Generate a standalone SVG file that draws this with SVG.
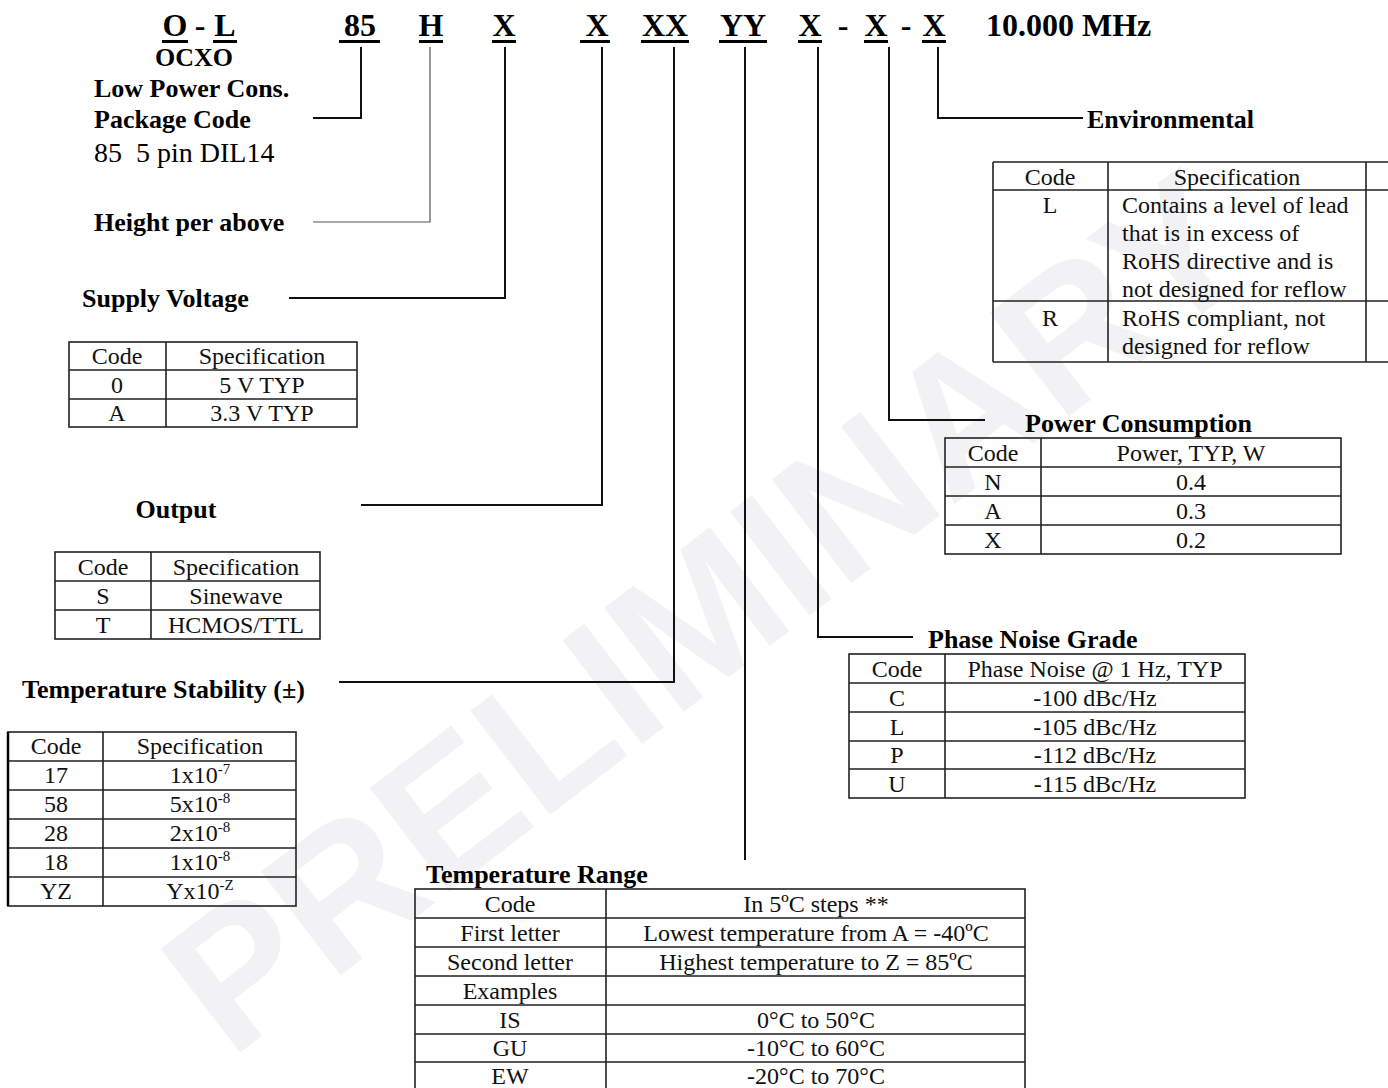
<svg xmlns="http://www.w3.org/2000/svg" width="1388" height="1088" viewBox="0 0 1388 1088">
<style>
text{font-family:"Liberation Serif","Times New Roman",serif;fill:#000}
.hd{font-size:32px;font-weight:bold}
.b{font-size:26px;font-weight:bold}
.t{font-size:24px;fill:#111}
.c{text-anchor:middle}
.grid{fill:none;stroke:#222;stroke-width:1.6}
.ln{fill:none;stroke:#111;stroke-width:2}
.thin{fill:none;stroke:#555;stroke-width:1.2}
.wm{font-family:"Liberation Sans",Arial,sans-serif;font-weight:bold;font-size:190px;fill:#f2f2f5}
.sup{font-size:15px}
</style>
<rect width="1388" height="1088" fill="#fff"/>
<g id="watermark"><text class="wm c" transform="translate(705,610) rotate(-37.5)" x="0" y="68">PRELIMINARY</text></g>

<g id="header">
<text class="hd c" x="175" y="36">O</text>
<text class="hd c" x="200" y="36">-</text>
<text class="hd c" x="225" y="36">L</text>
<text class="hd c" x="360" y="36">85</text>
<text class="hd c" x="431" y="36">H</text>
<text class="hd c" x="504" y="36">X</text>
<text class="hd c" x="597" y="36">X</text>
<text class="hd c" x="665" y="36">XX</text>
<text class="hd c" x="743" y="36">YY</text>
<text class="hd c" x="810" y="36">X</text>
<text class="hd c" x="843" y="36">-</text>
<text class="hd c" x="876" y="36">X</text>
<text class="hd c" x="906" y="36">-</text>
<text class="hd c" x="934" y="36">X</text>
<text class="hd" x="986" y="36">10.000 MHz</text>
<g fill="#000">
<rect x="162" y="40" width="26" height="3"/>
<rect x="213" y="40" width="24" height="3"/>
<rect x="339" y="40" width="41" height="3"/>
<rect x="419" y="40" width="24" height="3"/>
<rect x="492" y="40" width="24" height="3"/>
<rect x="580" y="40" width="30" height="3"/>
<rect x="641" y="40" width="48" height="3"/>
<rect x="719" y="40" width="48" height="3"/>
<rect x="798" y="40" width="24" height="3"/>
<rect x="864" y="40" width="24" height="3"/>
<rect x="922" y="40" width="24" height="3"/>
</g>
</g>

<g id="connectors">
<polyline class="ln" points="361,47 361,118 313,118"/>
<polyline class="thin" points="430,47 430,222 313,222"/>
<polyline class="ln" points="505,47 505,298 289,298"/>
<polyline class="ln" points="602,47 602,505 361,505"/>
<polyline class="ln" points="674,47 674,682 339,682"/>
<polyline class="ln" points="745,47 745,860"/>
<polyline class="ln" points="818,47 818,637 913,637"/>
<polyline class="ln" points="889,47 889,420 985,420"/>
<polyline class="ln" points="938,47 938,118 1083,118"/>
</g>

<g id="ocxo">
<text class="b c" x="194" y="66">OCXO</text>
<text class="b" x="94" y="97">Low Power Cons.</text>
</g>

<g id="package">
<text class="b" x="94" y="128">Package Code</text>
<text x="94" y="162" font-size="28" xml:space="preserve">85  5 pin DIL14</text>
</g>

<g id="height">
<text class="b" x="94" y="231">Height per above</text>
</g>

<g id="supply">
<text class="b" x="82" y="307">Supply Voltage</text>
<rect class="grid" x="69" y="342" width="288" height="85"/>
<path class="grid" d="M69,370H357M69,399H357M166,342V427"/>
<text class="t c" x="117" y="364">Code</text><text class="t c" x="262" y="364">Specification</text>
<text class="t c" x="117" y="393">0</text><text class="t c" x="262" y="393">5 V TYP</text>
<text class="t c" x="117" y="421">A</text><text class="t c" x="262" y="421">3.3 V TYP</text>
</g>

<g id="output">
<text class="b c" x="176" y="518">Output</text>
<rect class="grid" x="55" y="552" width="265" height="87"/>
<path class="grid" d="M55,581H320M55,610H320M151,552V639"/>
<text class="t c" x="103" y="575">Code</text><text class="t c" x="236" y="575">Specification</text>
<text class="t c" x="103" y="604">S</text><text class="t c" x="236" y="604">Sinewave</text>
<text class="t c" x="103" y="633">T</text><text class="t c" x="236" y="633">HCMOS/TTL</text>
</g>

<g id="stability">
<text class="b" x="22" y="698">Temperature Stability (±)</text>
<rect class="grid" x="8" y="732" width="288" height="174"/>
<path class="grid" d="M8,761H296M8,790H296M8,819H296M8,848H296M8,877H296M103,732V906"/>
<path d="M8,732V906" stroke="#000" stroke-width="2.5"/>
<text class="t c" x="56" y="754">Code</text><text class="t c" x="200" y="754">Specification</text>
<text class="t c" x="56" y="783">17</text><text class="t c" x="200" y="783">1x10<tspan class="sup" dy="-9">-7</tspan></text>
<text class="t c" x="56" y="812">58</text><text class="t c" x="200" y="812">5x10<tspan class="sup" dy="-9">-8</tspan></text>
<text class="t c" x="56" y="841">28</text><text class="t c" x="200" y="841">2x10<tspan class="sup" dy="-9">-8</tspan></text>
<text class="t c" x="56" y="870">18</text><text class="t c" x="200" y="870">1x10<tspan class="sup" dy="-9">-8</tspan></text>
<text class="t c" x="56" y="899">YZ</text><text class="t c" x="200" y="899">Yx10<tspan class="sup" dy="-9">-Z</tspan></text>
</g>

<g id="range">
<text class="b" x="426" y="883">Temperature Range</text>
<rect class="grid" x="415" y="889" width="610" height="202"/>
<path class="grid" d="M415,918H1025M415,947H1025M415,976H1025M415,1005H1025M415,1034H1025M415,1062H1025M606,889V1091"/>
<text class="t c" x="510" y="912">Code</text><text class="t c" x="816" y="912">In 5ºC steps **</text>
<text class="t c" x="510" y="941">First letter</text><text class="t c" x="816" y="941">Lowest temperature from A = -40ºC</text>
<text class="t c" x="510" y="970">Second letter</text><text class="t c" x="816" y="970">Highest temperature to Z = 85ºC</text>
<text class="t c" x="510" y="999">Examples</text>
<text class="t c" x="510" y="1028">IS</text><text class="t c" x="816" y="1028">0°C to 50°C</text>
<text class="t c" x="510" y="1056">GU</text><text class="t c" x="816" y="1056">-10°C to 60°C</text>
<text class="t c" x="510" y="1084">EW</text><text class="t c" x="816" y="1084">-20°C to 70°C</text>
</g>

<g id="phase">
<text class="b" x="928" y="648">Phase Noise Grade</text>
<rect class="grid" x="849" y="654" width="396" height="144"/>
<path class="grid" d="M849,683H1245M849,712H1245M849,741H1245M849,769H1245M945,654V798"/>
<text class="t c" x="897" y="677">Code</text><text class="t c" x="1095" y="677">Phase Noise @ 1 Hz, TYP</text>
<text class="t c" x="897" y="706">C</text><text class="t c" x="1095" y="706">-100 dBc/Hz</text>
<text class="t c" x="897" y="735">L</text><text class="t c" x="1095" y="735">-105 dBc/Hz</text>
<text class="t c" x="897" y="763">P</text><text class="t c" x="1095" y="763">-112 dBc/Hz</text>
<text class="t c" x="897" y="792">U</text><text class="t c" x="1095" y="792">-115 dBc/Hz</text>
</g>

<g id="power">
<text class="b" x="1025" y="432">Power Consumption</text>
<rect class="grid" x="945" y="438" width="396" height="116"/>
<path class="grid" d="M945,467H1341M945,496H1341M945,525H1341M1041,438V554"/>
<text class="t c" x="993" y="461">Code</text><text class="t c" x="1191" y="461">Power, TYP, W</text>
<text class="t c" x="993" y="490">N</text><text class="t c" x="1191" y="490">0.4</text>
<text class="t c" x="993" y="519">A</text><text class="t c" x="1191" y="519">0.3</text>
<text class="t c" x="993" y="548">X</text><text class="t c" x="1191" y="548">0.2</text>
</g>

<g id="environmental">
<text class="b" x="1087" y="128">Environmental</text>
<path class="grid" d="M993,162H1388M993,190H1388M993,301H1388M993,362H1388M993,162V362M1108,162V362M1366,162V362"/>
<text class="t c" x="1050" y="185">Code</text><text class="t c" x="1237" y="185">Specification</text>
<text class="t c" x="1050" y="213">L</text>
<text class="t" x="1122" y="213">Contains a level of lead</text>
<text class="t" x="1122" y="241">that is in excess of</text>
<text class="t" x="1122" y="269">RoHS directive and is</text>
<text class="t" x="1122" y="297">not designed for reflow</text>
<text class="t c" x="1050" y="326">R</text>
<text class="t" x="1122" y="326">RoHS compliant, not</text>
<text class="t" x="1122" y="354">designed for reflow</text>
</g>
</svg>
